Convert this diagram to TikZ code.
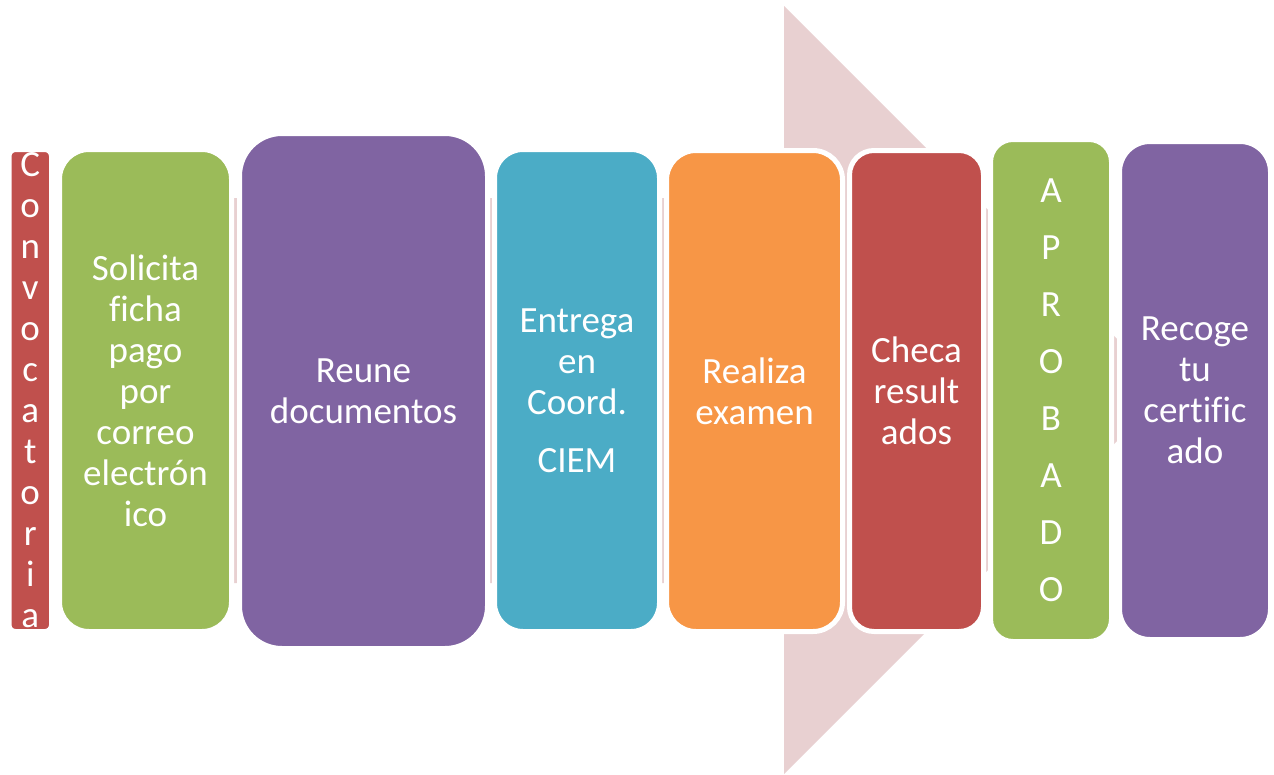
\documentclass[tikz,border=0pt]{standalone}
\usepackage{fontspec}
\setmainfont{Carlito}[Ligatures=NoCommon]
\definecolor{cred}{HTML}{C0504D}
\definecolor{cgreen}{HTML}{9BBB59}
\definecolor{cpurple}{HTML}{8064A2}
\definecolor{cteal}{HTML}{4BACC6}
\definecolor{corange}{HTML}{F79646}
\definecolor{cpink}{HTML}{E8D0D1}
\begin{document}
\begin{tikzpicture}[x=1pt,y=-1pt,
  procbox/.style={draw=white, line width=5pt, inner sep=0pt, outer sep=0pt,
    text=white, align=center, font=\fontsize{37}{41}\selectfont},
  bw/.style={minimum width=#1pt+5pt},
  bh/.style={minimum height=#1pt+5pt},
  rc/.style={rounded corners=#1pt+2.5pt}]
\useasboundingbox (0,0) rectangle (1274,774);
\fill[white] (0,0) rectangle (1274,774);
% background arrow
\fill[cpink] (100,198) -- (784,198) -- (784,6) -- (1168,390) -- (784,774) -- (784,583) -- (100,583) -- cycle;
% boxes
\node[procbox, fill=cred, bw=37.5, bh=477, rc=4] (conv) at (30.25,390.5)
  {C\\o\\n\\v\\o\\c\\a\\t\\o\\r\\i\\a};
\node[procbox, fill=cgreen, bw=167, bh=477, rc=27] (sol) at (145.5,390.5)
  {Solicita\\ficha\\pago\\por\\correo\\electrón\\ico};
\node[procbox, fill=cpurple, bw=243, bh=510, rc=40] (reu) at (363.5,391)
  {Reune\\documentos};
\node[procbox, fill=cteal, bw=160, bh=477, rc=26] (ent) at (577,390.5)
  {Entrega\\en\\Coord.\\[17pt]CIEM};
\node[procbox, fill=corange, bw=171, bh=476, rc=27] (rea) at (754.5,391)
  {Realiza\\examen};
\node[procbox, fill=cred, bw=129, bh=476, rc=22] (che) at (916.5,391)
  {Checa\\result\\ados};
\node[procbox, fill=cgreen, bw=116, bh=497, rc=20] (apr) at (1051,390.5)
  {A\\[16pt]P\\[16pt]R\\[16pt]O\\[16pt]B\\[16pt]A\\[16pt]D\\[16pt]O};
\node[procbox, fill=cpurple, bw=146, bh=493, rc=28] (rec) at (1195,390.5)
  {Recoge\\tu\\certific\\ado};
\end{tikzpicture}
\end{document}
